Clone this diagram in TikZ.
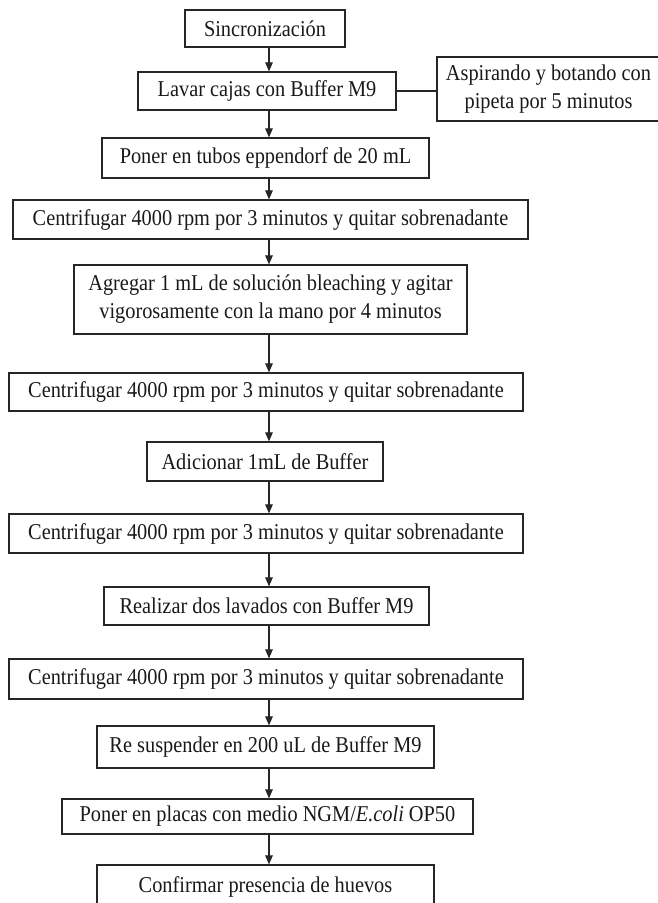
\documentclass[tikz,border=0pt]{standalone}
\usepackage{fontspec}
\setmainfont[FakeStretch=0.9]{Liberation Serif}
\usetikzlibrary{arrows.meta}
\tikzset{
  flow/.style={draw=black!85, line width=1.2pt, inner sep=0pt, align=center, text=black!90,
    font=\fontsize{22.6}{28}\selectfont},
  arr/.style={draw=black!85, line width=1.1pt, -{Triangle[length=9pt,width=7.5pt]}},
  link/.style={draw=black!85, line width=1.1pt}
}
\begin{document}
\begin{tikzpicture}[x=1pt,y=-1pt]
\useasboundingbox (0,0) rectangle (657,903);
\node[flow, minimum width=160pt, minimum height=37pt] (b1) at (265,28.5) {Sincronización};
\node[flow, minimum width=258pt, minimum height=38pt] (b2) at (267,91) {Lavar cajas con Buffer M9};
\node[flow, minimum width=223pt, minimum height=64pt] (s) at (548.5,89) {Aspirando y botando con\\pipeta por 5 minutos};
\node[flow, minimum width=327pt, minimum height=40pt] (b3) at (265.5,158) {Poner en tubos eppendorf de 20 mL};
\node[flow, minimum width=515pt, minimum height=39pt] (b4) at (270.5,219.5) {Centrifugar 4000 rpm por 3 minutos y quitar sobrenadante};
\node[flow, minimum width=393pt, minimum height=69pt] (b5) at (270.5,299.5) {Agregar 1 mL de solución bleaching y agitar\\vigorosamente con la mano por 4 minutos};
\node[flow, minimum width=514pt, minimum height=38pt] (b6) at (266,392) {Centrifugar 4000 rpm por 3 minutos y quitar sobrenadante};
\node[flow, minimum width=236pt, minimum height=39pt] (b7) at (265,461.5) {Adicionar 1mL de Buffer};
\node[flow, minimum width=514pt, minimum height=39pt] (b8) at (266,533.5) {Centrifugar 4000 rpm por 3 minutos y quitar sobrenadante};
\node[flow, minimum width=325pt, minimum height=38pt] (b9) at (266.5,606) {Realizar dos lavados con Buffer M9};
\node[flow, minimum width=514pt, minimum height=40pt] (b10) at (266,679) {Centrifugar 4000 rpm por 3 minutos y quitar sobrenadante};
\node[flow, minimum width=337pt, minimum height=42pt] (b11) at (265.5,747) {Re suspender en 200 uL de Buffer M9};
\node[flow, minimum width=411pt, minimum height=35pt] (b12) at (267.5,816.5) {Poner en placas con medio NGM/\textit{E.coli} OP50};
\node[flow, minimum width=337pt, minimum height=45pt, text depth=0pt] (b13) at (265.5,887.5) {\raisebox{5pt}{Confirmar presencia de huevos}};
\coordinate (ax) at (269,0);
\draw[arr] (b1.south -| ax) -- (b2.north -| ax);
\draw[arr] (b2.south -| ax) -- (b3.north -| ax);
\draw[arr] (b3.south -| ax) -- (b4.north -| ax);
\draw[arr] (b4.south -| ax) -- (b5.north -| ax);
\draw[arr] (b5.south -| ax) -- (b6.north -| ax);
\draw[arr] (b6.south -| ax) -- (b7.north -| ax);
\draw[arr] (b7.south -| ax) -- (b8.north -| ax);
\draw[arr] (b8.south -| ax) -- (b9.north -| ax);
\draw[arr] (b9.south -| ax) -- (b10.north -| ax);
\draw[arr] (b10.south -| ax) -- (b11.north -| ax);
\draw[arr] (b11.south -| ax) -- (b12.north -| ax);
\draw[arr] (b12.south -| ax) -- (b13.north -| ax);
\draw[link] (b2.east) -- (s.west |- b2.east);
\end{tikzpicture}
\end{document}
